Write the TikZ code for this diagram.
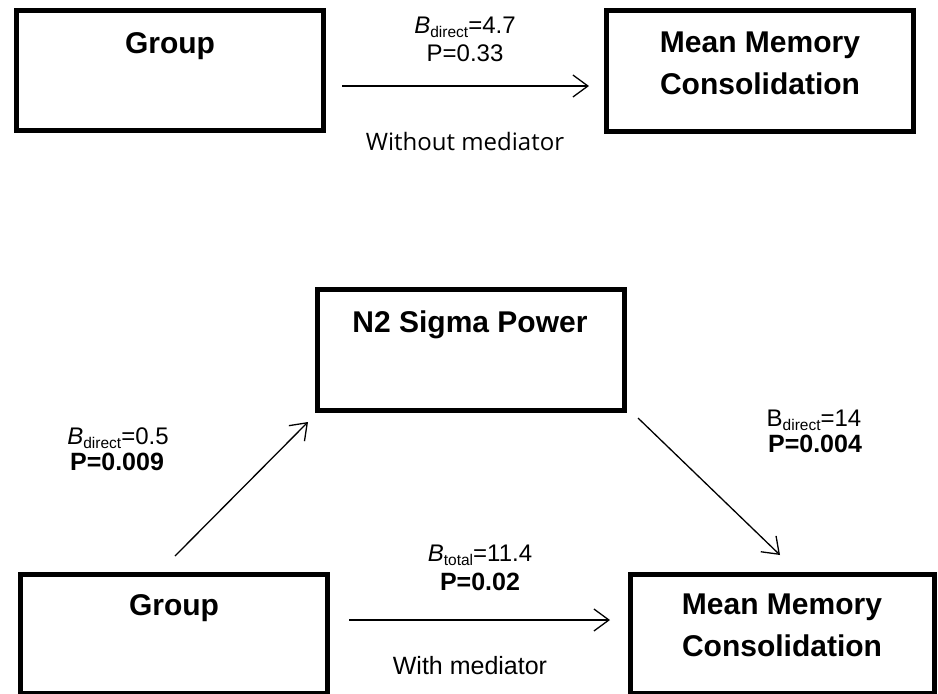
\documentclass[tikz,border=0pt]{standalone}
\usepackage{fontspec}
\setmainfont{Liberation Sans}
\newfontfamily\opensans{Open Sans}
\usetikzlibrary{arrows.meta}
\newcommand\sbs[1]{\raisebox{-0.2em}{\fontsize{15.5}{15.5}\selectfont #1}}
\begin{document}
\begin{tikzpicture}[x=1pt,y=-1pt,
  box/.style={draw=black, line width=5pt, rectangle, inner sep=0pt},
  boxlabel/.style={font=\fontsize{30}{42}\selectfont\bfseries, align=center, anchor=base, inner sep=0pt},
  lbl/.style={font=\fontsize{24}{27}\selectfont, align=center, anchor=base, inner sep=0pt},
  blbl/.style={font=\fontsize{25}{27}\selectfont\bfseries, align=center, anchor=base, inner sep=0pt},
  arr/.style={line width=1.3pt, -{Straight Barb[length=15pt,width=22pt,line width=1.3pt]}}
]
\fill[white] (0,0) rectangle (938,694);
\useasboundingbox (0,0) rectangle (938,694);

% boxes
\node[box, minimum width=307pt, minimum height=120pt] (g1) at (169.5,70) {};
\node[box, minimum width=307pt, minimum height=121pt] (m1) at (759.5,70.5) {};
\node[box, minimum width=307pt, minimum height=121pt] (n2) at (470.5,349.5) {};
\node[box, minimum width=307pt, minimum height=119pt] (g2) at (173.5,633.5) {};
\node[box, minimum width=304pt, minimum height=119pt] (m2) at (782,633.5) {};

% box labels (base = last line)
\node[boxlabel] (tg1) at (170,53) {Group};
\node[boxlabel] (tm1) at (760,94) {Mean Memory\\Consolidation};
\node[boxlabel] (tn2) at (470,332) {N2 Sigma Power};
\node[boxlabel] (tg2) at (174,615) {Group};
\node[boxlabel] (tm2) at (782,656) {Mean Memory\\Consolidation};

% arrow end points
\coordinate (a1s) at (342,86);
\coordinate (a1e) at (589,86);
\coordinate (a2s) at (175,556);
\coordinate (a2e) at (308,422);
\coordinate (a3s) at (638,418);
\coordinate (a3e) at (780,555);
\coordinate (a4s) at (349,620);
\coordinate (a4e) at (610,620);

\draw[arr] (a1s) -- (a1e);
\draw[arr] (a2s) -- (a2e);
\draw[arr] (a3s) -- (a3e);
\draw[arr] (a4s) -- (a4e);

% path labels
\node[lbl] (l1a) at (465,33) {\textit{B}\sbs{direct}=4.7};
\node[lbl] (l1b) at (465,61) {P=0.33};
\node[lbl, font=\fontsize{24}{27}\selectfont\opensans] (l1c) at (465,150) {Without mediator};

\node[lbl] (l2a) at (118,444) {\textit{B}\sbs{direct}=0.5};
\node[blbl] (l2b) at (117,470) {P=0.009};

\node[lbl] (l3a) at (814,426) {B\sbs{direct}=14};
\node[blbl] (l3b) at (815,452) {P=0.004};

\node[lbl] (l4a) at (480,561) {\textit{B}\sbs{total}=11.4};
\node[blbl] (l4b) at (480,590) {P=0.02};
\node[lbl, font=\fontsize{25}{27}\selectfont] (l4c) at (470,674) {With mediator};
\end{tikzpicture}
\end{document}
